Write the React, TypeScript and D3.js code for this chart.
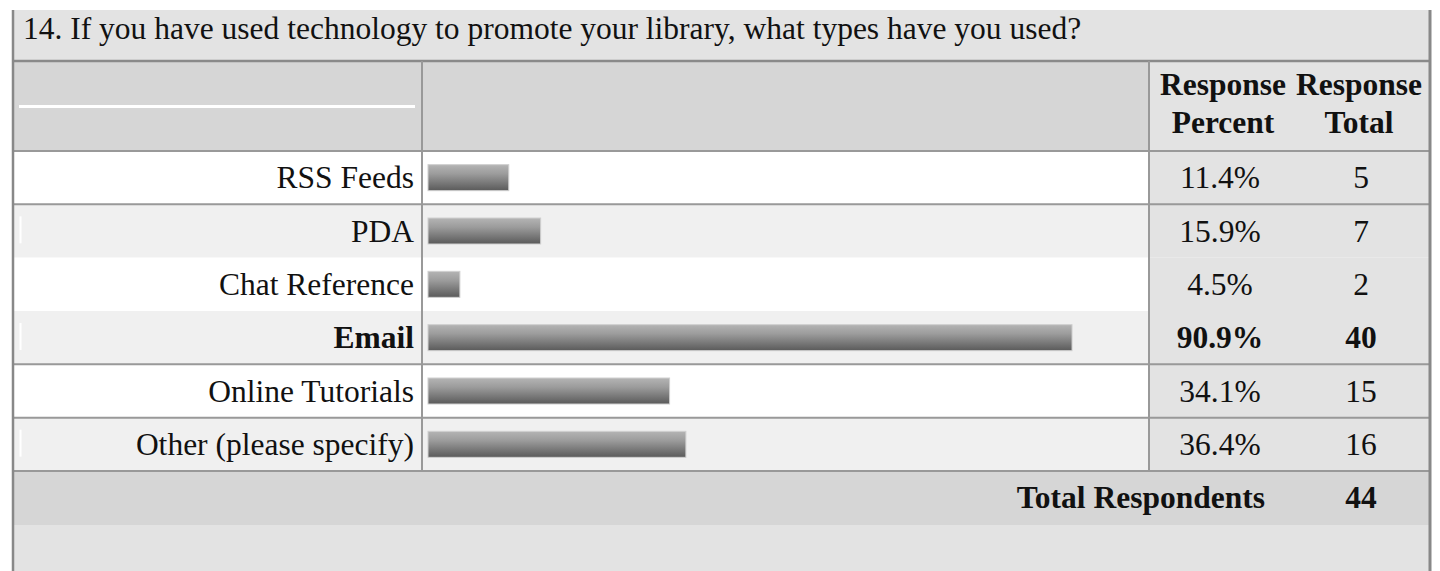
import React from "react";
import * as d3 from "d3";

const title = "14. If you have used technology to promote your library, what types have you used?";
const categories = ["RSS Feeds", "PDA", "Chat Reference", "Email", "Online Tutorials", "Other (please specify)"];
const percents = [11.4, 15.9, 4.5, 90.9, 34.1, 36.4];
const totals = [5, 7, 2, 40, 15, 16];
const headerPercent = ["Response", "Percent"];
const headerTotal = ["Response", "Total"];
const totalLabel = "Total Respondents";
const totalRespondents = 44;

const W = 1440;
const H = 571;
const FONT = "'Liberation Serif', 'Times New Roman', serif";
const FS = 31.5;

export default function App() {
  const left = 12;
  const right = 1430;
  const col1 = 422;
  const col2 = 1149;
  const rowsTop = 151;
  const rowsBottom = 471;
  const y = d3.scaleBand<string>().domain(categories).range([rowsTop, rowsBottom]).paddingInner(0);
  const bw = y.bandwidth();
  const x = d3.scaleLinear().domain([0, 100]).range([428, 428 + 708.5]);
  const fmt = (v: number) => d3.format(".1f")(v) + "%";
  const maxV = d3.max(percents) as number;
  const pctX = 1220;
  const totX = 1361;
  const lineRows = [0, 3, 4, 5];
  const barH = 26;

  return (
    <svg
      width={W}
      height={H}
      style={{ position: "absolute", left: 0, top: 0, background: "#fff" }}
      fontFamily={FONT}
    >
      <defs>
        <linearGradient id="barGrad" x1="0" y1="0" x2="0" y2="1">
          <stop offset="0%" stopColor="#b4b4b4" />
          <stop offset="35%" stopColor="#9c9c9c" />
          <stop offset="100%" stopColor="#5a5a5a" />
        </linearGradient>
      </defs>
      {/* title band */}
      <rect x={left} y={10} width={right - left} height={51} fill="#e3e3e3" />
      <text x={23} y={39} fontSize={FS} fill="#111">{title}</text>
      {/* header */}
      <rect x={left} y={61} width={col2 - left} height={90} fill="#d6d6d6" />
      <rect x={col2} y={61} width={right - col2} height={90} fill="#e3e3e3" />
      <rect x={19} y={105} width={396} height={3} fill="#ffffff" />
      {headerPercent.map((t, i) => (
        <text key={"hp" + i} x={1223} y={95 + i * 38} fontSize={FS} fontWeight="bold" textAnchor="middle" fill="#111">{t}</text>
      ))}
      {headerTotal.map((t, i) => (
        <text key={"ht" + i} x={1359} y={95 + i * 38} fontSize={FS} fontWeight="bold" textAnchor="middle" fill="#111">{t}</text>
      ))}
      {/* rows */}
      {categories.map((c, i) => {
        const y0 = y(c) as number;
        const bold = percents[i] === maxV;
        const base = y0 + bw / 2 + 10.5;
        return (
          <g key={c}>
            <rect x={left} y={y0} width={col2 - left} height={bw} fill={i % 2 === 0 ? "#ffffff" : "#f0f0f0"} />
            <rect x={col2} y={y0} width={right - col2} height={bw} fill="#e3e3e3" />
            {i % 2 === 1 && <rect x={19.5} y={y0 + 12} width={2} height={27} fill="#ffffff" />}
            <text x={414} y={base} fontSize={FS} fontWeight={bold ? "bold" : "normal"} textAnchor="end" fill="#111">{c}</text>
            <rect
              x={x(0)}
              y={y0 + bw / 2 - barH / 2}
              width={x(percents[i]) - x(0)}
              height={barH}
              fill="url(#barGrad)"
              stroke="#cfcfcf"
              strokeWidth={1}
            />
            <text x={pctX} y={base} fontSize={FS} fontWeight={bold ? "bold" : "normal"} textAnchor="middle" fill="#111">{fmt(percents[i])}</text>
            <text x={totX} y={base} fontSize={FS} fontWeight={bold ? "bold" : "normal"} textAnchor="middle" fill="#111">{totals[i]}</text>
          </g>
        );
      })}
      {/* total row */}
      <rect x={left} y={rowsBottom} width={right - left} height={54} fill="#d6d6d6" />
      <rect x={left} y={525} width={right - left} height={H - 525} fill="#e3e3e3" />
      <text x={1265} y={508} fontSize={FS} fontWeight="bold" textAnchor="end" fill="#111">{totalLabel}</text>
      <text x={totX} y={508} fontSize={FS} fontWeight="bold" textAnchor="middle" fill="#111">{totalRespondents}</text>
      {/* lines */}
      <line x1={left} x2={right} y1={61} y2={61} stroke="#8a8a8a" strokeWidth={2.5} />
      <line x1={left} x2={right} y1={rowsTop} y2={rowsTop} stroke="#999" strokeWidth={2} />
      {lineRows.map((r) => {
        const yy = (y(categories[r]) as number) + bw;
        return <line key={"l" + r} x1={left} x2={right} y1={yy} y2={yy} stroke="#999" strokeWidth={2} />;
      })}
      <line x1={col1} x2={col1} y1={61} y2={rowsBottom} stroke="#999" strokeWidth={2} />
      <line x1={col2} x2={col2} y1={61} y2={rowsBottom} stroke="#999" strokeWidth={2} />
      <line x1={left + 1} x2={left + 1} y1={10} y2={H} stroke="#888" strokeWidth={2.5} />
      <line x1={right} x2={right} y1={10} y2={H} stroke="#888" strokeWidth={3} />
    </svg>
  );
}
